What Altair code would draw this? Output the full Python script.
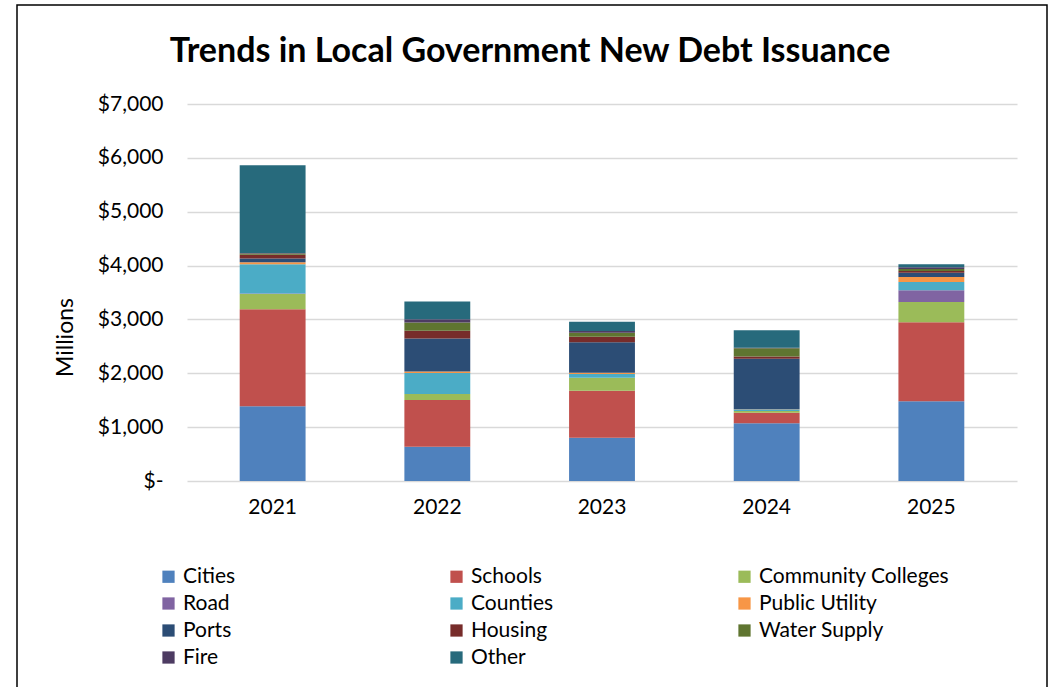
import altair as alt
import pandas as pd

years = ["2021", "2022", "2023", "2024", "2025"]
categories = ["Cities", "Schools", "Community Colleges", "Road", "Counties",
              "Public Utility", "Ports", "Housing", "Water Supply", "Fire", "Other"]
colors = ["#4F81BD", "#C0504D", "#9BBB59", "#8064A2", "#4BACC6",
          "#F79646", "#2C4D75", "#772C2A", "#5F7530", "#4D3B62", "#276A7C"]

cities = [1390, 637, 804, 1071, 1480]
schools = [1800, 867, 873, 198, 1467]
community_colleges = [280, 111, 241, 30, 377]
road = [10, 0, 0, 0, 217]
counties = [545, 390, 68, 30, 155]
public_utility = [35, 30, 25, 5, 93]
ports = [70, 613, 563, 935, 80]
housing = [70, 143, 105, 43, 31]
water_supply = [25, 150, 74, 155, 37]
fire = [10, 62, 30, 5, 31]
other = [1630, 328, 173, 328, 56]

series = [cities, schools, community_colleges, road, counties, public_utility,
          ports, housing, water_supply, fire, other]

rows = []
for ci, (cat, vals) in enumerate(zip(categories, series)):
    for y, v in zip(years, vals):
        rows.append({"Year": y, "Category": cat, "Value": v, "Order": ci})
df = pd.DataFrame(rows)

FONT = "Lato"

bars = alt.Chart(df).mark_bar().encode(
    x=alt.X("Year:N", title=None,
            scale=alt.Scale(paddingInner=0.6, paddingOuter=0.32),
            axis=alt.Axis(labelAngle=0, labelFontSize=21, labelPadding=15,
                          ticks=False, domain=False, labelColor="#000000")),
    y=alt.Y("Value:Q", title="Millions",
            scale=alt.Scale(domain=[0, 7000]),
            axis=alt.Axis(values=[0, 1000, 2000, 3000, 4000, 5000, 6000, 7000],
                          labelExpr="datum.value == 0 ? '$-' : '$' + format(datum.value, ',')",
                          labelFontSize=21, labelPadding=24, ticks=False, domain=False,
                          gridColor="#D9D9D9", gridWidth=1.5,
                          titleFontSize=23, titleFontWeight="normal", titlePadding=20,
                          titleY=233,
                          labelColor="#000000", titleColor="#000000")),
    color=alt.Color("Category:N",
                    scale=alt.Scale(domain=categories, range=colors),
                    legend=alt.Legend(title=None, orient="none", legendX=-29, legendY=462,
                                      direction="horizontal",
                                      columns=3, gridAlign="all", columnPadding=72,
                                      rowPadding=5, symbolType="square", symbolSize=150,
                                      symbolStrokeWidth=0, labelFontSize=21,
                                      labelColor="#000000", labelLimit=400)),
    order=alt.Order("Order:Q", sort="ascending"),
)

frame = alt.Chart(pd.DataFrame({"a": [0]})).mark_rect(
    fill=None, stroke="#000000", strokeWidth=1.5, clip=False
).encode(
    x=alt.value(-170), x2=alt.value(860), y=alt.value(-99), y2=alt.value(600)
)

chart = alt.layer(bars, frame).properties(
    width=830, height=377,
    padding={"left": 187, "top": 104, "right": 34, "bottom": 206},
    autosize=alt.AutoSizeParams(type="none"),
    title=alt.TitleParams("Trends in Local Government New Debt Issuance",
                          fontSize=34, fontWeight="bold", font=FONT, color="#000000",
                          anchor="middle", dx=-72, offset=0, dy=65),
    background="#FFFFFF",
).configure(font=FONT).configure_view(stroke=None)

chart.save("out.html", embed_options={"renderer": "svg", "actions": False})
